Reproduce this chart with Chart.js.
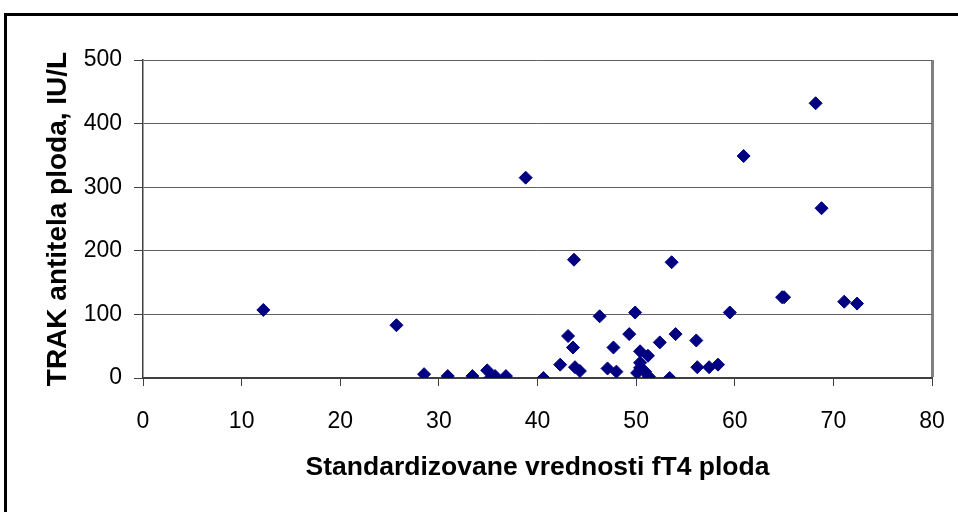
<!DOCTYPE html>
<html lang="sr">
<head>
    <meta charset="UTF-8">
    <script src="https://cdn.jsdelivr.net/npm/chart.js"></script>
    <title>TRAK / fT4</title>
    <style>
        body { margin: 0; background: #fff; }
    </style>
</head>
<body>
    <div style="width:958px; height:512px;">
        <canvas id="myChart" width="958" height="512"></canvas>
    </div>
    <script>
        // standardizovane vrednosti fT4 ploda (x) i TRAK antitela (y)
        const ft4 = [12.2, 25.7, 28.5, 30.9, 33.4, 34.9, 35.2, 35.7, 36.8, 38.8,
                     40.6, 42.3, 43.1, 43.6, 43.8, 44.3, 43.7, 53.6, 46.3, 47.1,
                     47.7, 48.0, 49.3, 49.9, 50.4, 51.2, 50.4, 50.4, 50.1, 50.9,
                     51.3, 52.4, 53.4, 54.0, 56.1, 56.2, 57.4, 58.3, 59.5, 60.9,
                     68.2, 68.8, 64.8, 65.0, 71.1, 72.4];
        const trak = [107, 83, 6, 3, 3, 12, 0, 3, 3, 315,
                      0, 21, 66, 48, 17, 11, 186, 182, 97, 15,
                      48, 10, 69, 103, 42, 35, 24, 16, 8, 10,
                      2, 56, 0, 69, 59, 17, 17, 21, 103, 349,
                      432, 267, 127, 127, 120, 117];
        const xTicks = [0, 10, 20, 30, 40, 50, 60, 70, 80];
        const yTicks = [0, 100, 200, 300, 400, 500];

        const points = ft4.map((v, i) => ({x: v, y: trak[i]}));

        // okvir oko cele slike
        const frame = {
            id: 'frame',
            beforeDraw(chart) {
                const c = chart.ctx;
                c.save();
                c.fillStyle = '#fff';
                c.fillRect(0, 0, chart.width, chart.height);
                c.strokeStyle = '#000';
                c.lineWidth = 3;
                c.strokeRect(5.5, 14.5, chart.width + 20, chart.height + 20);
                c.restore();
            }
        };

        const ctx = document.getElementById('myChart');
        new Chart(ctx, {
            type: 'scatter',
            data: {
                datasets: [{
                    data: points,
                    pointStyle: 'rectRot',
                    pointRadius: 6.5,
                    pointHoverRadius: 6.5,
                    backgroundColor: '#000080',
                    borderColor: '#000080',
                    borderWidth: 1
                }]
            },
            options: {
                responsive: false,
                animation: false,
                layout: { padding: { left: 0, top: 60, right: 26, bottom: 0 } },
                plugins: { legend: { display: false }, tooltip: { enabled: false } },
                scales: {
                    x: {
                        type: 'linear',
                        min: xTicks[0],
                        max: xTicks[xTicks.length - 1],
                        afterBuildTicks: s => { s.ticks = xTicks.map(v => ({value: v})); },
                        afterFit: s => { s.height = 134; s.paddingLeft = 0; s.paddingRight = 0; },
                        grid: {
                            drawOnChartArea: true,
                            color: c => c.tick && c.tick.value === 80 ? '#808080' : 'rgba(0,0,0,0)',
                            lineWidth: c => c.tick && c.tick.value === 80 ? 3 : 1,
                            tickColor: '#404040',
                            tickWidth: 1,
                            tickLength: 8
                        },
                        border: { color: '#404040', width: 2 },
                        ticks: {
                            color: '#000',
                            padding: 22,
                            font: { family: 'Liberation Sans, Arial', size: 23 }
                        },
                        title: {
                            display: true,
                            text: 'Standardizovane vrednosti fT4 ploda',
                            color: '#000',
                            padding: { top: 0, bottom: 28 },
                            font: { family: 'Liberation Sans, Arial', size: 26.5, weight: 'bold' }
                        }
                    },
                    y: {
                        type: 'linear',
                        min: yTicks[0],
                        max: yTicks[yTicks.length - 1],
                        afterBuildTicks: s => { s.ticks = yTicks.map(v => ({value: v})); },
                        afterFit: s => { s.width = 143; },
                        grid: {
                            color: '#606060',
                            lineWidth: 1,
                            tickColor: '#404040',
                            tickLength: 9
                        },
                        border: { color: '#404040', width: 1.5 },
                        ticks: {
                            color: '#000',
                            padding: 12,
                            font: { family: 'Liberation Sans, Arial', size: 23 }
                        },
                        title: {
                            display: true,
                            text: 'TRAK antitela ploda, IU/L',
                            color: '#000',
                            padding: { top: 41, bottom: 0 },
                            font: { family: 'Liberation Sans, Arial', size: 28, weight: 'bold' }
                        }
                    }
                }
            },
            plugins: [frame]
        });
    </script>
</body>
</html>
